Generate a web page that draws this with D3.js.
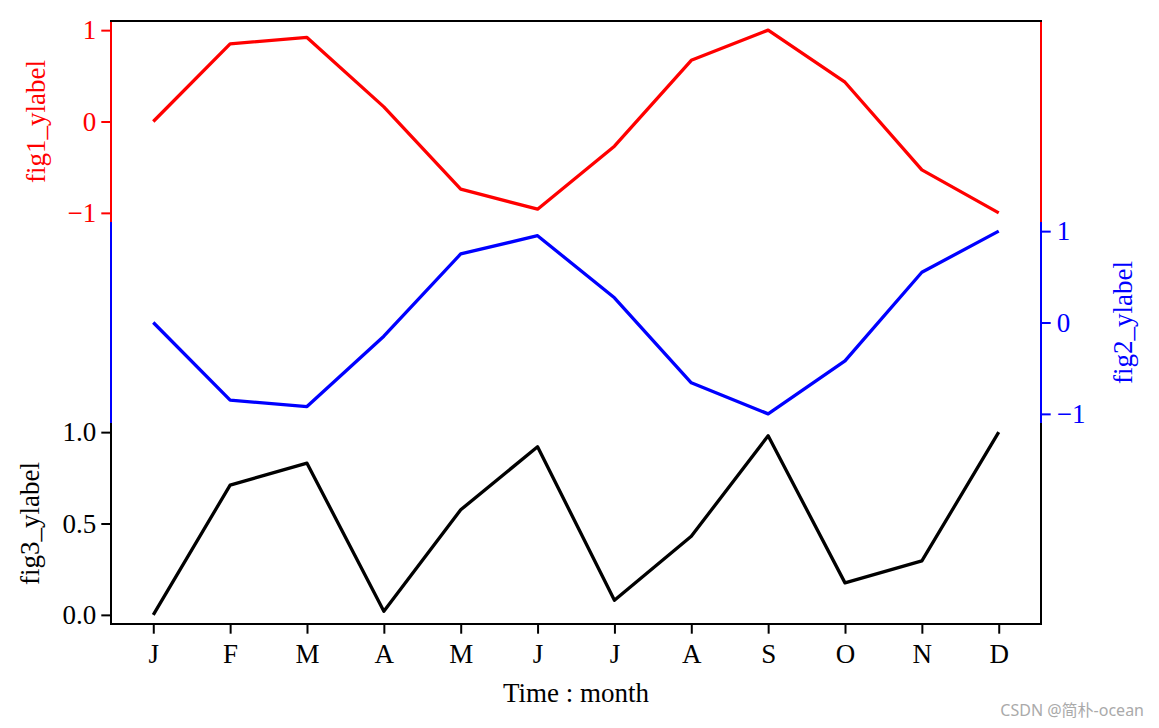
<!DOCTYPE html>
<html>
<head>
<meta charset="utf-8">
<script src="https://cdn.jsdelivr.net/npm/d3@7"></script>
<style>
  body { margin: 0; background: #fff; }
  svg text { font-family: "Liberation Serif", "Times New Roman", serif; }
</style>
</head>
<body>
<div id="chart"></div>
<script>
const months = ['J', 'F', 'M', 'A', 'M', 'J', 'J', 'A', 'S', 'O', 'N', 'D'];
const fig1Values = [0, 0.85, 0.92, 0.16, -0.74, -0.96, -0.27, 0.67, 1.0, 0.43, -0.53, -1.0];
const fig2Values = [0, -0.85, -0.92, -0.15, 0.75, 0.95, 0.27, -0.66, -1.0, -0.42, 0.55, 1.0];
const fig3Values = [0, 0.71, 0.83, 0.02, 0.575, 0.92, 0.08, 0.43, 0.98, 0.175, 0.295, 1.0];
const fig1Ticks = [-1, 0, 1];
const fig2Ticks = [-1, 0, 1];
const fig3Ticks = [0, 0.5, 1.0];

const width = 1159, height = 728;
const plot = { left: 111, right: 1041, top: 21, bottom: 624 };
const band = (plot.bottom - plot.top) / 3;
const tickLen = 9.7;
const fontSize = 27;

const svg = d3.select('#chart').append('svg')
    .attr('width', width)
    .attr('height', height);

const x = d3.scaleLinear()
    .domain([-0.55, 11.55])
    .range([plot.left, plot.right]);

// three stacked bands sharing the same x
const y1 = d3.scaleLinear().domain([-1.1, 1.1]).range([plot.top + band, plot.top]);
const y2 = d3.scaleLinear().domain([-1.1, 1.1]).range([plot.top + 2 * band, plot.top + band]);
const y3 = d3.scaleLinear().domain([-0.05, 1.05]).range([plot.bottom, plot.top + 2 * band]);

const fmtMinus = d => d < 0 ? '\u2212' + Math.abs(d) : String(d);

function styleAxis(g, color) {
    g.select('.domain').remove();
    g.selectAll('.tick line').attr('stroke', color).attr('stroke-width', 2);
    g.selectAll('.tick text')
        .attr('fill', color)
        .attr('font-size', fontSize)
        .attr('font-family', '"Liberation Serif", "Times New Roman", serif');
}

// lines
const series = [
    { values: fig1Values, y: y1, color: '#ff0000' },
    { values: fig2Values, y: y2, color: '#0000ff' },
    { values: fig3Values, y: y3, color: '#000000' }
];
series.forEach(s => {
    const line = d3.line()
        .x((d, i) => x(i))
        .y(d => s.y(d));
    svg.append('path')
        .datum(s.values)
        .attr('fill', 'none')
        .attr('stroke', s.color)
        .attr('stroke-width', 3.3)
        .attr('stroke-linejoin', 'round')
        .attr('d', line);
});

// spines
const spines = [
    { y: y1, color: '#ff0000' },
    { y: y2, color: '#0000ff' },
    { y: y3, color: '#000000' }
];
spines.forEach(s => {
    const [b, t] = s.y.range();
    [plot.left, plot.right].forEach(px => {
        svg.append('line')
            .attr('x1', px).attr('x2', px)
            .attr('y1', t).attr('y2', b)
            .attr('stroke', s.color)
            .attr('stroke-width', 2);
    });
});
svg.append('line')
    .attr('x1', plot.left - 1).attr('x2', plot.right + 1)
    .attr('y1', plot.top).attr('y2', plot.top)
    .attr('stroke', '#000').attr('stroke-width', 2);
svg.append('line')
    .attr('x1', plot.left - 1).attr('x2', plot.right + 1)
    .attr('y1', plot.bottom).attr('y2', plot.bottom)
    .attr('stroke', '#000').attr('stroke-width', 2);

// axes
svg.append('g')
    .attr('transform', `translate(${plot.left},0)`)
    .call(d3.axisLeft(y1).tickValues(fig1Ticks).tickFormat(fmtMinus).tickSize(tickLen).tickPadding(5))
    .call(g => styleAxis(g, '#ff0000'));

svg.append('g')
    .attr('transform', `translate(${plot.right},0)`)
    .call(d3.axisRight(y2).tickValues(fig2Ticks).tickFormat(fmtMinus).tickSize(tickLen).tickPadding(6))
    .call(g => styleAxis(g, '#0000ff'));

svg.append('g')
    .attr('transform', `translate(${plot.left},0)`)
    .call(d3.axisLeft(y3).tickValues(fig3Ticks).tickFormat(d3.format('.1f')).tickSize(tickLen).tickPadding(5))
    .call(g => styleAxis(g, '#000000'));

svg.append('g')
    .attr('transform', `translate(0,${plot.bottom})`)
    .call(d3.axisBottom(x).tickValues(d3.range(months.length)).tickFormat(i => months[i]).tickSize(tickLen).tickPadding(10))
    .call(g => styleAxis(g, '#000000'));

// axis labels
const ylabels = [
    { text: 'fig1_ylabel', x: 36, y: y1(0), color: '#ff0000' },
    { text: 'fig2_ylabel', x: 1123, y: y2(0), color: '#0000ff' },
    { text: 'fig3_ylabel', x: 30, y: y3(0.5), color: '#000000' }
];
ylabels.forEach(l => {
    svg.append('text')
        .attr('transform', `translate(${l.x},${l.y}) rotate(-90)`)
        .attr('text-anchor', 'middle')
        .attr('dy', '0.35em')
        .attr('fill', l.color)
        .attr('font-size', fontSize)
        .text(l.text);
});

svg.append('text')
    .attr('x', (plot.left + plot.right) / 2)
    .attr('y', 702)
    .attr('text-anchor', 'middle')
    .attr('font-size', fontSize)
    .attr('fill', '#000')
    .text('Time : month');

// watermark
svg.append('text')
    .attr('x', 1144)
    .attr('y', 716)
    .attr('text-anchor', 'end')
    .attr('font-size', 16)
    .attr('fill', '#aaaaaa')
    .style('font-family', '"Noto Sans", "Noto Sans CJK SC", sans-serif')
    .text('CSDN @简朴-ocean');
</script>
</body>
</html>
